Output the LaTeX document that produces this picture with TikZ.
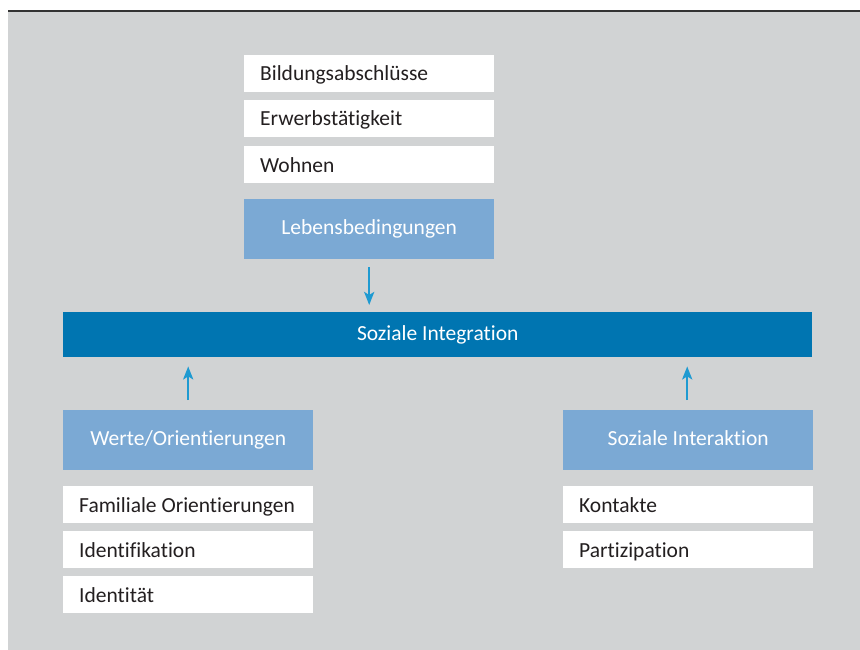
\documentclass[tikz,border=0pt]{standalone}
\usepackage{fontspec}
\setmainfont{Carlito}[Ligatures={NoCommon}]
\usetikzlibrary{calc,positioning}
\usetikzlibrary{arrows.meta}

\definecolor{bggrey}{HTML}{D1D3D4}
\definecolor{lightblue}{HTML}{7BA9D4}
\definecolor{darkblue}{HTML}{0075B1}
\definecolor{arrowblue}{HTML}{1E9AD1}
\definecolor{textgrey}{HTML}{231F20}

\tikzset{
    itembox/.style={fill=white, minimum width=250pt, minimum height=37pt, inner sep=0pt,
        anchor=north west},
    itemtext/.style={anchor=base west, inner sep=0pt, text=textgrey,
        font=\fontsize{21.5}{24}\selectfont},
    headbox/.style={fill=lightblue, minimum width=250pt, minimum height=60pt, inner sep=0pt,
        text height=15pt, text depth=4pt,
        text=white, font=\fontsize{21.5}{24}\selectfont, anchor=north west},
    upar/.style={draw=arrowblue, line width=2.5pt, -{Stealth[length=13pt,width=10pt,inset=3pt]}}
}

\begin{document}
\begin{tikzpicture}[x=1pt,y=-1pt]
        \useasboundingbox (0,0) rectangle (860,650);
        \fill[bggrey] (8,12) rectangle (860,650);
        \draw[line width=1.5pt, black!80] (8,11) -- (860,11);

        \node[headbox] (leben) at (244,199) {Lebensbedingungen};
        \node[headbox] (werte) at (63,410) {Werte/Orientierungen};
        \node[headbox] (inter) at (563,410) {Soziale Interaktion};
        \node[fill=darkblue, minimum width=749pt, minimum height=45pt, inner sep=0pt,
            text height=15pt, text depth=4pt,
            text=white, font=\fontsize{21.5}{24}\selectfont, anchor=north west]
            (integ) at (63,312) {Soziale Integration};

        \foreach \v/\x/\y/\t in
         {bild/244/55/Bildungsabschlüsse,
             erwerb/244/100/Erwerbstätigkeit,
             wohn/244/146/Wohnen,
             fam/63/486/Familiale Orientierungen,
             ident/63/531/Identifikation,
             identi/63/576/Identität,
             kont/563/486/Kontakte,
             part/563/531/Partizipation
            }
            {
                \node[itembox] (\v) at (\x,\y) {};
                \node[itemtext] at ($(\v.north west)+(16,26)$) {\t};
            };

        \coordinate (lebenend) at ($(leben.south)+(0,8)$);
        \draw[upar] (lebenend) -- ($(lebenend |- integ.north)+(0,-7)$);
        \coordinate (werteend) at ($(werte.north)+(0,-10)$);
        \draw[upar] (werteend) -- ($(werteend |- integ.south)+(0,9)$);
        \coordinate (interend) at ($(inter.north)+(-1,-10)$);
        \draw[upar] (interend) -- ($(interend |- integ.south)+(0,9)$);
    \end{tikzpicture}
\end{document}
